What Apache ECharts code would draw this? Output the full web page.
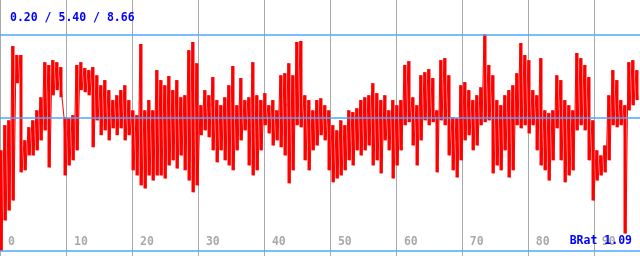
<!DOCTYPE html>
<html>
<head>
<meta charset="utf-8">
<script src="https://cdn.jsdelivr.net/npm/echarts@6/dist/echarts.min.js"></script>
<style>
  html, body { margin: 0; padding: 0; background: #fff; }
  #chart { width: 640px; height: 256px; }
</style>
</head>
<body>
<div id="chart"></div>
<script>
// summary lines: min / mean / max
var statValues = [0.20, 5.40, 8.66];
var bratValue = 1.09;

// x ticks every 10, axis runs 0..97
var xTicks = [0, 10, 20, 30, 40, 50, 60, 70, 80, 90];
var xMax = 97;
var step = 0.60625; // one hi/lo pair per step

// upper envelope of the trace, read column by column
var hiValues = [
  4.13, 5.11, 5.30, 8.20, 7.85, 7.85, 4.52, 5.03, 5.30, 5.69,
  6.20, 7.57, 7.46, 7.65, 7.57, 7.38, 5.42, 5.38, 5.50, 7.46,
  7.57, 7.34, 7.26, 7.38, 7.06, 6.67, 6.87, 6.48, 6.09, 6.28,
  6.48, 6.67, 6.09, 5.69, 5.50, 8.28, 5.69, 6.09, 5.69, 7.26,
  6.87, 6.67, 7.03, 6.48, 6.87, 6.20, 6.28, 8.04, 8.36, 7.53,
  5.89, 6.48, 6.28, 6.99, 6.09, 5.89, 6.20, 6.67, 7.42, 5.89,
  6.95, 6.09, 6.20, 7.57, 6.28, 6.09, 6.36, 5.89, 6.09, 5.69,
  7.06, 7.14, 7.53, 7.06, 8.36, 8.40, 6.28, 6.09, 5.69, 6.09,
  6.16, 5.89, 5.69, 5.11, 4.91, 5.30, 5.11, 5.69, 5.62, 5.77,
  6.09, 6.20, 6.28, 6.75, 6.36, 6.09, 6.28, 5.69, 6.09, 5.89,
  6.09, 7.46, 7.61, 6.20, 5.89, 7.06, 7.18, 7.30, 6.95, 5.69,
  7.65, 7.73, 7.06, 5.42, 5.38, 6.67, 6.79, 6.48, 6.09, 6.28,
  6.59, 8.66, 7.46, 7.06, 6.09, 5.89, 6.28, 6.48, 6.67, 7.14,
  8.32, 7.85, 7.65, 6.48, 6.28, 7.73, 5.69, 5.58, 5.69, 7.06,
  6.87, 6.09, 5.89, 5.69, 7.93, 7.73, 7.46, 6.99, 5.30, 4.13,
  3.93, 4.32, 6.28, 7.26, 6.87, 6.09, 5.89, 7.57, 7.65, 7.26
];

// lower envelope of the trace
var loValues = [
  0.20, 1.39, 1.78, 2.17, 6.75, 3.27, 3.35, 3.93, 3.93, 4.13,
  4.52, 4.91, 3.46, 6.28, 6.48, 6.20, 3.15, 3.54, 3.74, 4.13,
  6.48, 6.40, 6.28, 4.25, 5.30, 4.72, 4.91, 4.52, 4.99, 4.72,
  4.99, 4.52, 4.72, 3.35, 3.15, 2.76, 2.64, 3.15, 2.95, 3.15,
  3.15, 3.03, 3.54, 3.74, 3.42, 3.93, 3.35, 2.95, 2.49, 2.76,
  4.72, 4.91, 4.64, 4.13, 3.66, 4.13, 3.74, 3.54, 3.35, 4.13,
  4.52, 4.91, 3.54, 3.15, 3.35, 4.13, 5.11, 4.79, 4.32, 4.52,
  4.25, 3.93, 2.84, 3.35, 5.11, 5.03, 3.74, 3.35, 4.13, 4.32,
  4.72, 4.52, 3.35, 2.88, 3.03, 3.15, 3.35, 3.74, 3.54, 4.13,
  3.93, 4.13, 4.32, 3.54, 3.74, 3.23, 4.52, 4.13, 3.03, 3.54,
  4.13, 5.11, 5.23, 4.32, 3.54, 4.52, 5.30, 5.11, 5.23, 3.27,
  5.30, 5.11, 3.93, 3.35, 3.07, 3.74, 4.52, 4.72, 4.13, 4.32,
  5.11, 5.23, 5.30, 3.23, 3.54, 3.35, 4.13, 3.07, 3.35, 5.11,
  4.99, 5.11, 4.79, 5.11, 4.13, 3.54, 3.35, 2.95, 3.74, 4.99,
  3.74, 2.88, 3.15, 3.35, 4.91, 5.11, 4.91, 3.74, 2.17, 2.95,
  3.15, 3.27, 3.74, 5.11, 5.03, 5.11, 0.88, 5.69, 5.89, 6.09
];

var monoFont = "'DejaVu Sans Mono', 'Liberation Mono', monospace";

// interleave hi and lo so the trace zigzags like the original
var traceData = [];
var rangeData = [];
for (var i = 0; i < hiValues.length; i++) {
  traceData.push([i * step, hiValues[i]]);
  traceData.push([i * step + step / 2, loValues[i]]);
  rangeData.push([i * step + step / 4, loValues[i], hiValues[i]]);
}

var myChart = echarts.init(document.getElementById("chart"));

var option = {
  backgroundColor: "#ffffff",
  animation: false,
  title: {
    text: statValues.map(function (v) { return v.toFixed(2); }).join(" / "),
    left: 5,
    top: 7,
    textStyle: {
      fontFamily: monoFont,
      fontWeight: "bold",
      fontSize: 11.5,
      color: "#0000ff",
    },
  },
  graphic: [
    {
      type: "text",
      right: 8,
      bottom: 9,
      z: 10,
      style: {
        text: "BRat " + bratValue.toFixed(2),
        font: "bold 11.5px " + monoFont,
        fill: "#0000ff",
      },
    },
  ],
  grid: {
    left: 0,
    right: 0,
    top: 0,
    bottom: 0,
  },
  xAxis: {
    type: "value",
    min: 0,
    max: xMax,
    interval: 10,
    axisLine: { show: false },
    axisTick: { show: false },
    axisLabel: {
      inside: true,
      showMinLabel: true,
      showMaxLabel: false,
      align: "left",
      verticalAlign: "bottom",
      margin: 8,
      padding: [0, 0, 0, 8],
      color: "#aaaaaa",
      fontFamily: monoFont,
      fontWeight: "bold",
      fontSize: 11.5,
      formatter: function (v) {
        return xTicks.indexOf(v) >= 0 ? String(v) : "";
      },
    },
    splitLine: {
      show: true,
      lineStyle: { color: "#aaaaaa", width: 1 },
    },
  },
  yAxis: {
    type: "value",
    min: 0,
    max: 10,
    show: false,
    splitLine: { show: false },
  },
  series: [
    {
      // dense vertical strokes between the envelope values of each column
      type: "custom",
      data: rangeData,
      z: 2,
      renderItem: function (params, api) {
        var top = api.coord([api.value(0), api.value(2)]);
        var bottom = api.coord([api.value(0), api.value(1)]);
        return {
          type: "rect",
          shape: {
            x: top[0] - 1.5,
            y: top[1],
            width: 3,
            height: bottom[1] - top[1],
          },
          style: { fill: "#ff0000" },
        };
      },
    },
    {
      type: "line",
      data: traceData,
      showSymbol: false,
      symbol: "none",
      lineStyle: { color: "#ff0000", width: 1 },
      z: 3,
      markLine: {
        silent: true,
        symbol: "none",
        label: { show: false },
        lineStyle: { color: "#4da6ff", width: 1.5, type: "solid" },
        data: statValues.map(function (v) { return { yAxis: v }; }),
      },
    },
  ],
};

myChart.setOption(option);
</script>
</body>
</html>
